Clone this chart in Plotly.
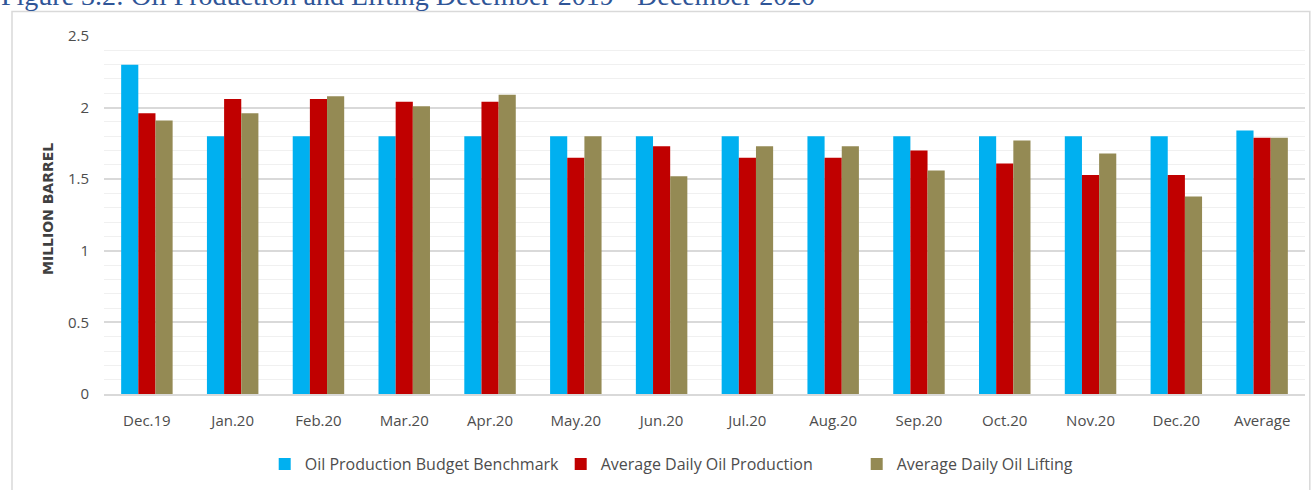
import plotly.graph_objects as go

categories = ["Dec.19", "Jan.20", "Feb.20", "Mar.20", "Apr.20", "May.20", "Jun.20",
              "Jul.20", "Aug.20", "Sep.20", "Oct.20", "Nov.20", "Dec.20", "Average"]
benchmark = [2.30, 1.80, 1.80, 1.80, 1.80, 1.80, 1.80, 1.80, 1.80, 1.80, 1.80, 1.80, 1.80, 1.84]
production = [1.96, 2.06, 2.06, 2.04, 2.04, 1.65, 1.73, 1.65, 1.65, 1.70, 1.61, 1.53, 1.53, 1.79]
lifting = [1.91, 1.96, 2.08, 2.01, 2.09, 1.80, 1.52, 1.73, 1.73, 1.56, 1.77, 1.68, 1.38, 1.79]
y_ticks = [0, 0.5, 1, 1.5, 2, 2.5]
y_tick_text = ["0", "0.5", "1", "1.5", "2", "2.5"]

series = [
    ("Oil Production Budget Benchmark", benchmark, "#00B0F0"),
    ("Average Daily Oil Production", production, "#C00000"),
    ("Average Daily Oil Lifting", lifting, "#948A54"),
]

font_family = "Open Sans, sans-serif"

fig = go.Figure()
for name, vals, color in series:
    fig.add_trace(go.Bar(x=categories, y=vals, name=name, marker_color=color,
                         marker_line_width=0))

fig.update_layout(
    width=1312, height=490,
    barmode="group", bargap=0.4, bargroupgap=0,
    plot_bgcolor="white", paper_bgcolor="white",
    margin=dict(l=104, r=7, t=36, b=96, autoexpand=False),
    font=dict(family=font_family, color="#4D4D4D", size=14),
    showlegend=True,
    legend=dict(orientation="h", x=0.5035, xanchor="center", y=-0.196, yanchor="middle",
                font=dict(size=16, color="#4D4D4D"), tracegroupgap=0,
                traceorder="normal", itemwidth=30, entrywidth=251, entrywidthmode="pixels"),
)

fig.add_annotation(text="Figure 3.2: Oil Production and Lifting December 2019 - December 2020",
                   xref="paper", yref="paper", x=-0.0876, y=1.112, xanchor="left", yanchor="middle",
                   showarrow=False,
                   font=dict(family="Liberation Serif, DejaVu Serif, serif", size=28, color="#2F5597"))

fig.add_annotation(text="<b>MILLION BARREL</b>", textangle=-90,
                   xref="paper", yref="paper", x=(48 - 104) / 1201, y=(394 - 209) / 358,
                   xanchor="center", yanchor="middle", showarrow=False,
                   font=dict(size=14, color="#404040", family="DejaVu Sans, sans-serif"))

fig.update_xaxes(showline=True, linecolor="#D9D9D9", linewidth=1.5, ticks="",
                 tickfont=dict(size=15, color="#4D4D4D"), ticklabelstandoff=12,
                 showgrid=False, automargin=False)
fig.update_yaxes(range=[0, 2.5], tickvals=y_ticks, ticktext=y_tick_text,
                 showgrid=True, gridcolor="#D9D9D9", gridwidth=1.5,
                 minor=dict(dtick=0.1, showgrid=True, gridcolor="#F0F0F0", gridwidth=1, tick0=0),
                 zeroline=False, tickfont=dict(size=15, color="#4D4D4D"),
                 ticklabelstandoff=14, automargin=False)

fig.add_shape(type="rect", xref="paper", yref="paper", x0=-0.0766, x1=1.004, y0=-0.35, y1=1.0685,
              line=dict(color="#D9D9D9", width=1.5), fillcolor="rgba(0,0,0,0)", layer="below")

fig.write_html("out.html", config={"displayModeBar": False},
               post_script="document.body.style.margin='0';")
